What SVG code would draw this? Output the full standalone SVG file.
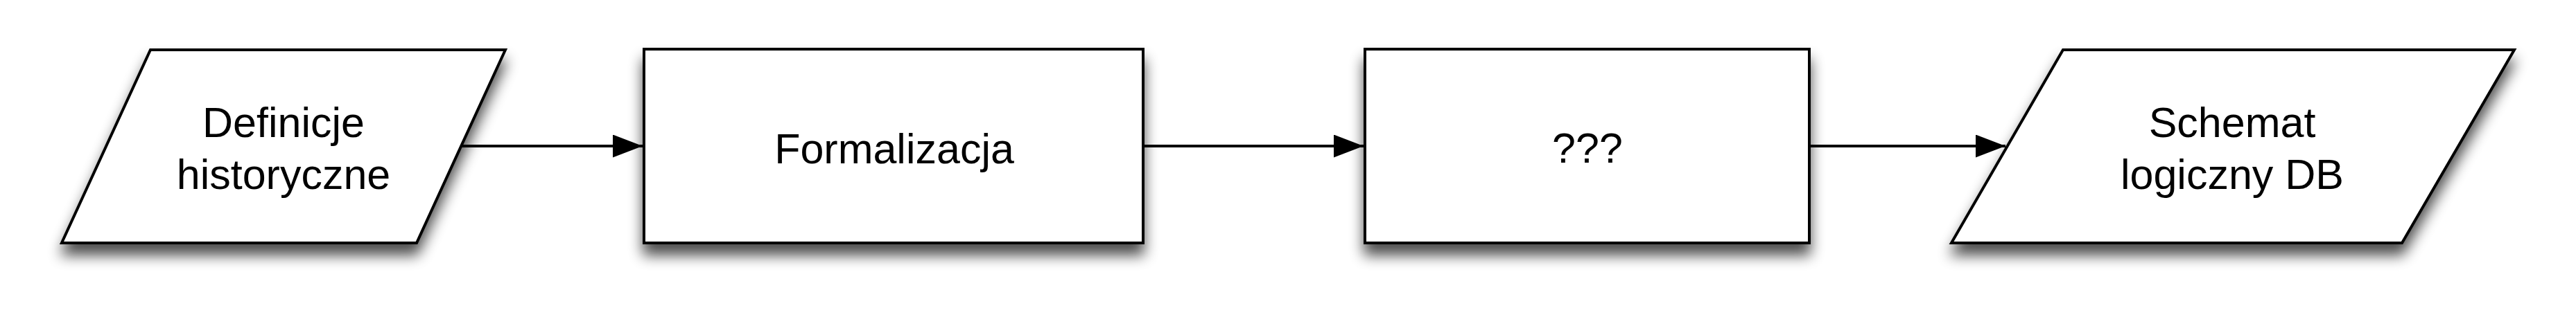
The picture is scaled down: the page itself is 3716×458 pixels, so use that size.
<svg xmlns="http://www.w3.org/2000/svg" width="3716" height="458" viewBox="0 0 3716 458">
<style>
.shape{fill:#ffffff;stroke:#000000;stroke-width:4;stroke-linejoin:miter;filter:url(#shadow)}
.lbl{font-family:"Liberation Sans",Arial,Helvetica,sans-serif;font-size:61px;fill:#000000;text-anchor:middle}
.conn{fill:none;stroke:#000000;stroke-width:4}
</style>
<defs>
<filter id="shadow" x="-10%" y="-20%" width="120%" height="160%">
<feGaussianBlur in="SourceAlpha" stdDeviation="10"/>
<feOffset dx="0" dy="16" result="b"/>
<feComponentTransfer><feFuncA type="linear" slope="0.7"/></feComponentTransfer>
<feMerge><feMergeNode/><feMergeNode in="SourceGraphic"/></feMerge>
</filter>
<marker id="arrow" markerUnits="userSpaceOnUse" markerWidth="44" markerHeight="34" refX="43" refY="16.5" orient="auto">
<path d="M0,0 L43,16.5 L0,33 Z" fill="#000000"/>
</marker>
</defs>
<rect width="3716" height="458" fill="#ffffff"/>
<g id="connectors">
<line class="conn" x1="665" y1="211" x2="927" y2="211" marker-end="url(#arrow)"/>
<line class="conn" x1="1649" y1="211" x2="1967" y2="211" marker-end="url(#arrow)"/>
<line class="conn" x1="2610" y1="211" x2="2893" y2="211" marker-end="url(#arrow)"/>
</g>
<g id="node-definicje">
<polygon class="shape" points="217,72 729,72 601,351 89,351"/>
<text class="lbl" x="409" y="198">Definicje</text>
<text class="lbl" x="409" y="273">historyczne</text>
</g>
<g id="node-formalizacja">
<rect class="shape" x="929" y="71" width="720" height="280"/>
<text class="lbl" x="1290" y="236">Formalizacja</text>
</g>
<g id="node-unknown">
<rect class="shape" x="1969" y="71" width="641" height="280"/>
<text class="lbl" x="2290" y="235">???</text>
</g>
<g id="node-schemat">
<polygon class="shape" points="2976,72 3627,72 3465,351 2815,351"/>
<text class="lbl" x="3220" y="198">Schemat</text>
<text class="lbl" x="3220" y="273">logiczny DB</text>
</g>
</svg>
